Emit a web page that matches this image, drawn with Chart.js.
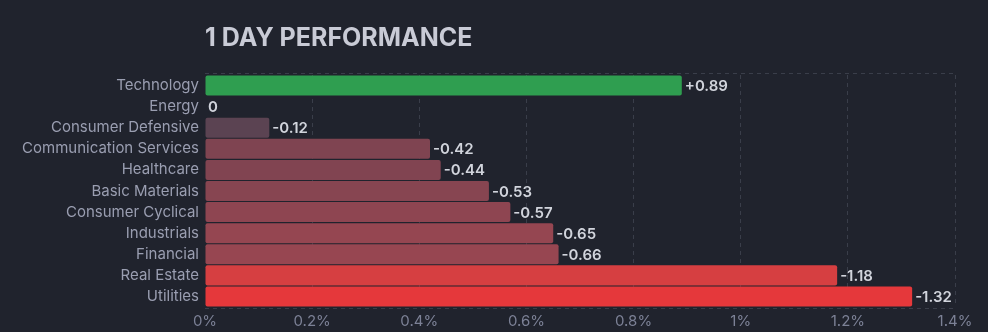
<!DOCTYPE html>
<html>
<head>
<meta charset="utf-8">
<script src="https://cdn.jsdelivr.net/npm/chart.js@4/dist/chart.umd.min.js"></script>
<style>
  html, body { margin: 0; padding: 0; background: #20232d; }
  #wrap { position: relative; width: 988px; height: 332px; }
</style>
</head>
<body>
<div id="wrap"><canvas id="c"></canvas></div>
<script>
const titleText = "1 DAY PERFORMANCE";
const categories = ["Technology", "Energy", "Consumer Defensive", "Communication Services", "Healthcare", "Basic Materials", "Consumer Cyclical", "Industrials", "Financial", "Real Estate", "Utilities"];
const changes = [0.89, 0, -0.12, -0.42, -0.44, -0.53, -0.57, -0.65, -0.66, -1.18, -1.32];
const barColors = ["#2f9e50", "#3a3e4a", "#5b4352", "#7f4451", "#814451", "#874551", "#8e4551", "#954651", "#974651", "#d63f41", "#e5383b"];
const tickValues = [0, 0.2, 0.4, 0.6, 0.8, 1, 1.2, 1.4];

const FONT = "Inter, 'Noto Sans', sans-serif";

const fmt = v => v > 0 ? "+" + v.toFixed(2) : (v === 0 ? "0" : v.toFixed(2));

const extras = {
  id: "extras",
  beforeDatasetsDraw(chart) {
    const { ctx, chartArea } = chart;
    ctx.save();
    ctx.strokeStyle = "#3a3e4a";
    ctx.lineWidth = 1;
    ctx.setLineDash([4, 4]);
    ctx.beginPath();
    const t = Math.round(chartArea.top - 2) + 0.5;
    const b = Math.round(chartArea.bottom + 1) + 0.5;
    ctx.moveTo(chartArea.left, t);
    ctx.lineTo(chartArea.right, t);
    ctx.moveTo(chartArea.left, b);
    ctx.lineTo(chartArea.right, b);
    ctx.stroke();
    ctx.restore();
  },
  afterDatasetsDraw(chart) {
    const { ctx, chartArea } = chart;
    const meta = chart.getDatasetMeta(0);
    ctx.save();
    ctx.font = "600 15px " + FONT;
    ctx.fillStyle = "#d1d4dc";
    ctx.textBaseline = "middle";
    ctx.textAlign = "left";
    meta.data.forEach((bar, i) => {
      const x = changes[i] === 0 ? chartArea.left + 3 : bar.x + 3;
      ctx.fillText(fmt(changes[i]), x, bar.y + 1);
    });
    // title
    ctx.font = "700 25px " + FONT;
    ctx.fillStyle = "#c9cbd6";
    ctx.textBaseline = "alphabetic";
    ctx.fillText(titleText, chartArea.left, 46);
    ctx.restore();
  }
};

new Chart(document.getElementById("c"), {
  type: "bar",
  data: {
    labels: categories,
    datasets: [{
      data: changes.map(v => Math.abs(v)),
      backgroundColor: barColors,
      borderRadius: 2,
      borderSkipped: false,
      barPercentage: 0.95,
      categoryPercentage: 1.0
    }]
  },
  options: {
    indexAxis: "y",
    responsive: true,
    maintainAspectRatio: false,
    animation: false,
    layout: { padding: { top: 75, right: 33, bottom: 0, left: 0 } },
    plugins: {
      legend: { display: false },
      title: { display: false },
      tooltip: { enabled: false }
    },
    scales: {
      x: {
        min: 0,
        max: 1.4,
        afterBuildTicks(scale) { scale.ticks = tickValues.map(v => ({ value: v })); },
        afterFit(scale) { scale.height = 25; },
        border: { display: false },
        grid: {
          color: ctx => ctx.index === 0 ? "rgba(0,0,0,0)" : "#3a3e4a",
          drawTicks: false
        },
        ticks: {
          color: "#7c8196",
          font: { family: FONT, size: 15 },
          padding: 5,
          callback: v => (Math.round(v * 10) / 10) + "%"
        }
      },
      y: {
        afterFit(scale) { scale.width = 205; },
        border: { display: false },
        grid: { display: false, drawTicks: false },
        ticks: {
          color: "#9a9eb1",
          font: { family: FONT, size: 15 },
          padding: 6
        }
      }
    }
  },
  plugins: [extras]
});
</script>
<script>
const ch = Chart.getChart("c");
ch.options.scales.x.border = { display: false, dash: [4, 4] };
ch.options.scales.x.grid.borderDash = [4, 4];
ch.update();
</script>
</body>
</html>
